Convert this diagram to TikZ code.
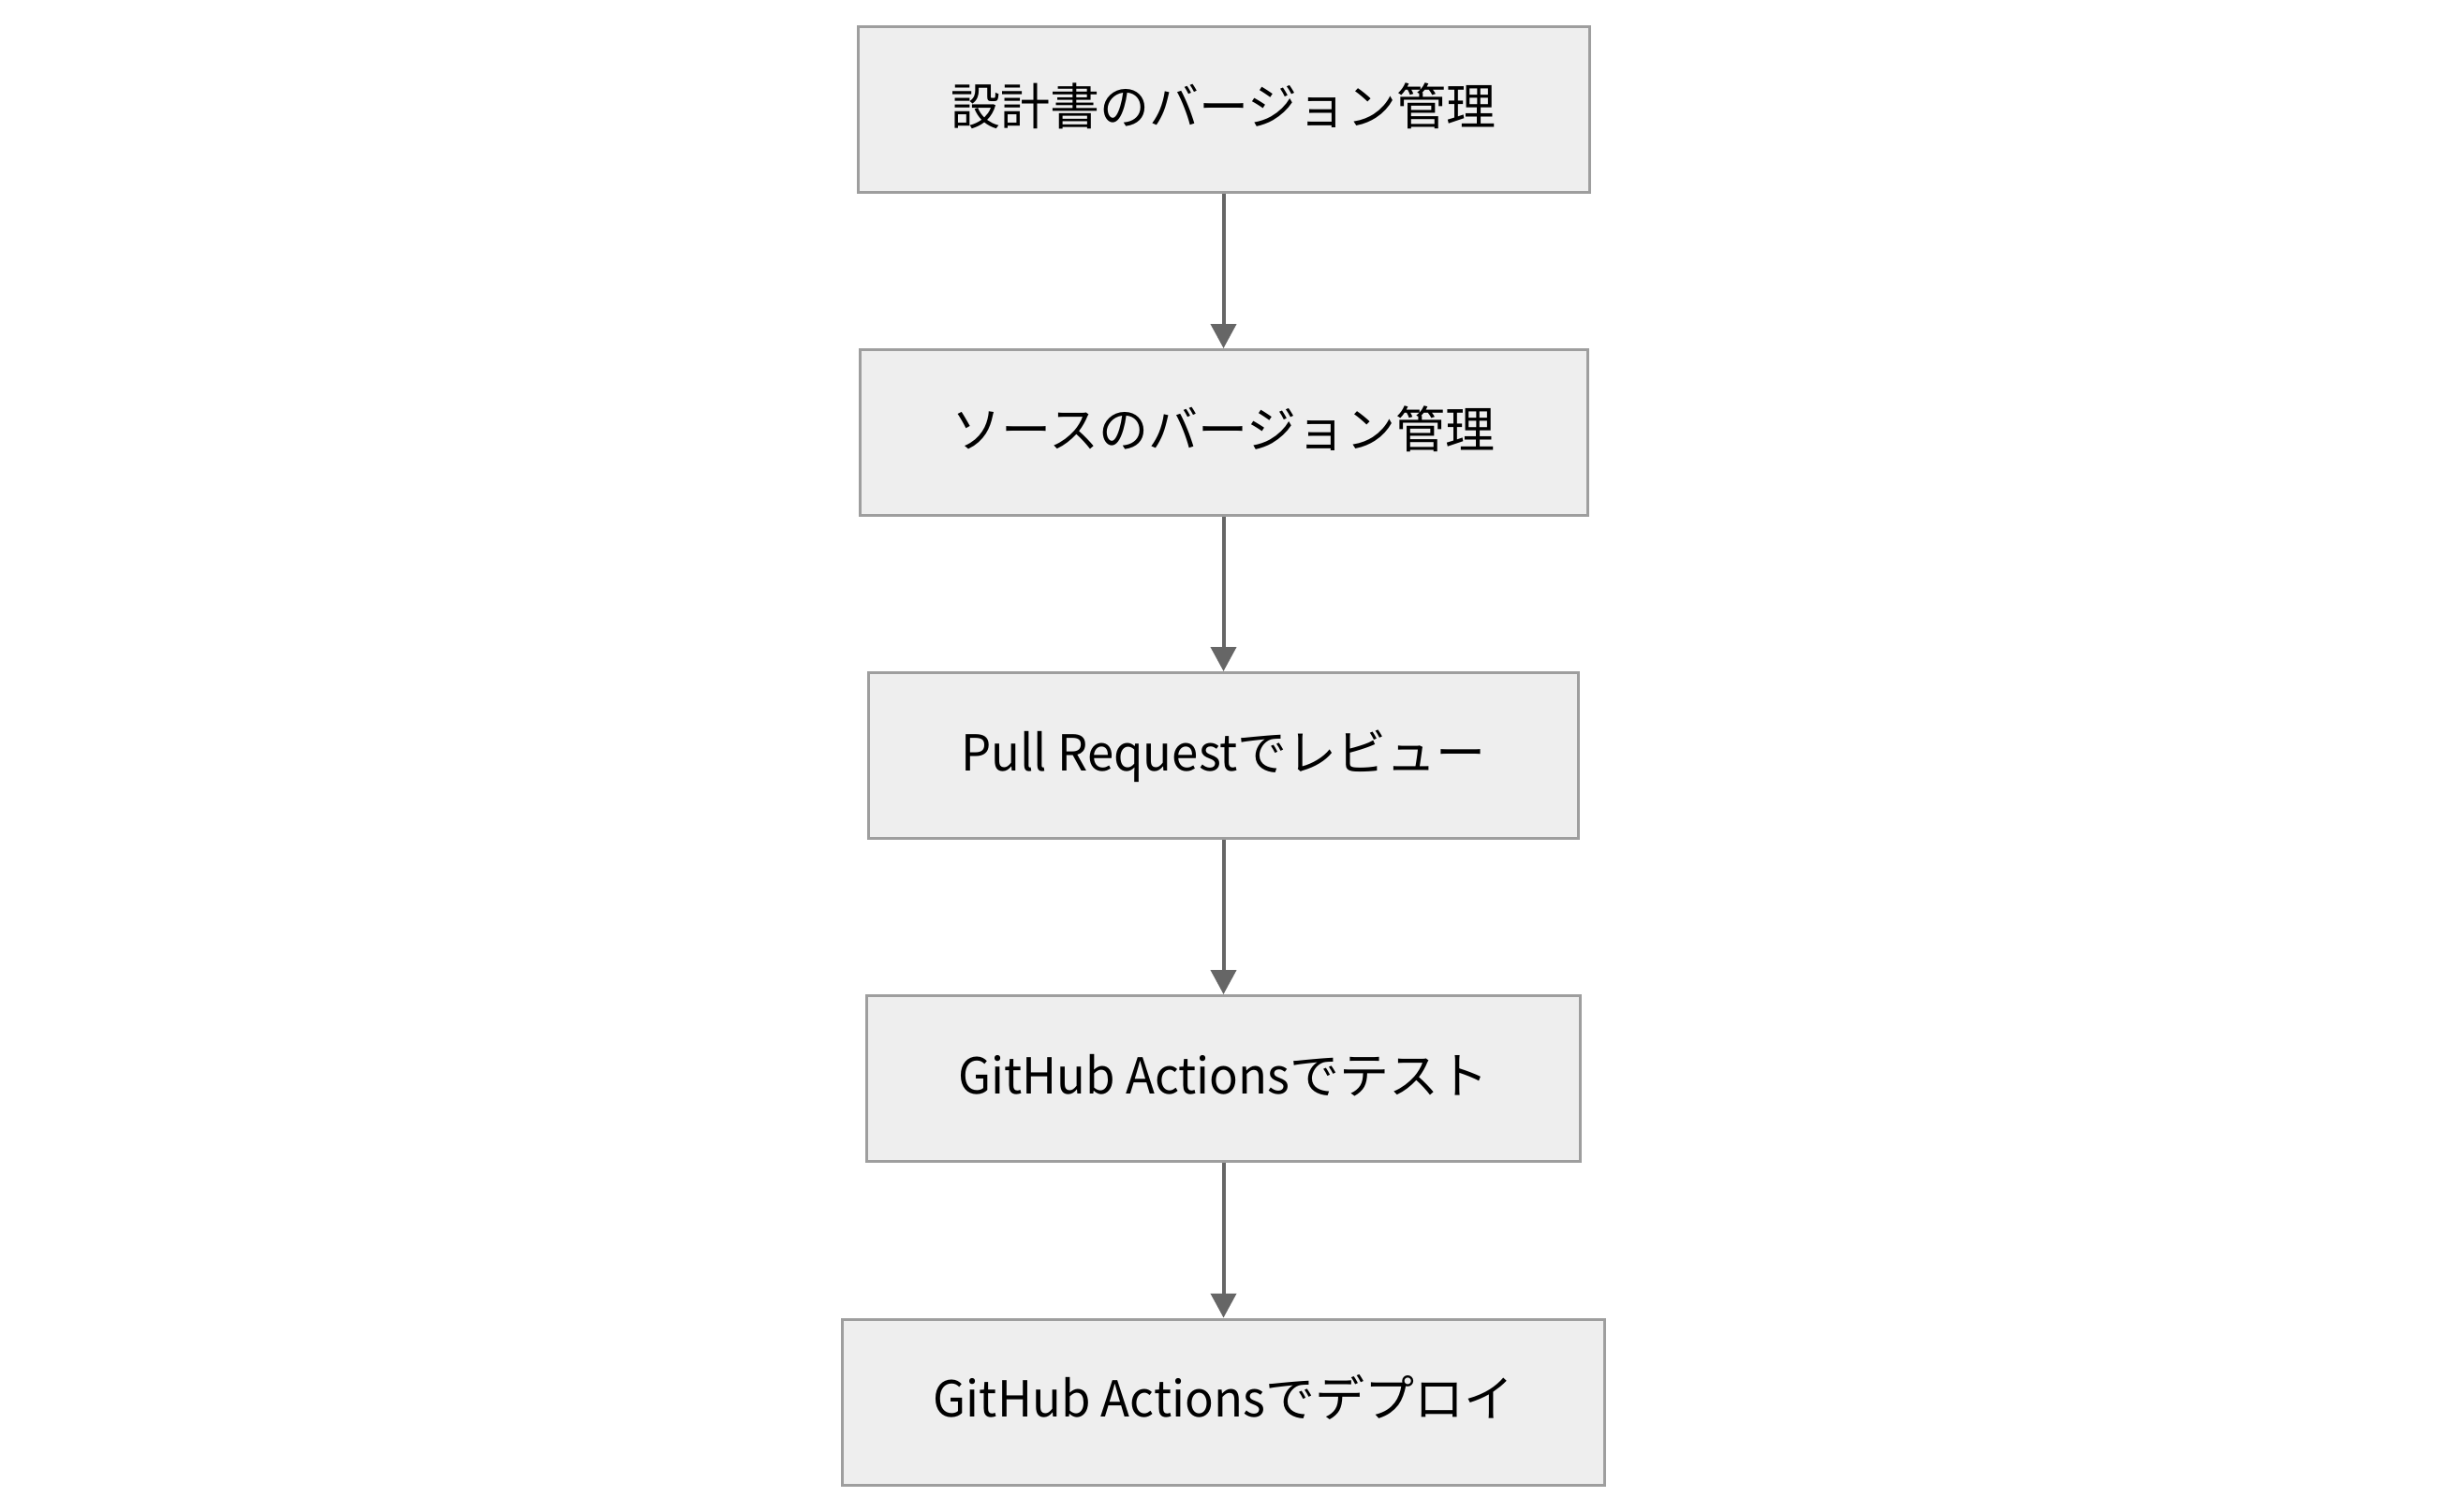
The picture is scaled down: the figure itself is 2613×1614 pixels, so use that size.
\documentclass[tikz,border=0pt]{standalone}
\usepackage{fontspec}
\setmainfont{Noto Sans CJK JP}
\newfontfamily\latnfont[FakeStretch=0.96]{Noto Sans CJK JP}
\usetikzlibrary{arrows.meta}
\definecolor{boxfill}{HTML}{EEEEEE}
\definecolor{boxline}{HTML}{9E9E9E}
\definecolor{edgeline}{HTML}{666666}
\newcommand{\boxtext}[1]{\raisebox{-4pt}{#1}}
\tikzset{
  flowbox/.style={draw=boxline, fill=boxfill, line width=1.5pt, inner sep=0pt,
    minimum height=88.5pt, font=\fontsize{26.5pt}{32pt}\selectfont,
    text height=0.9em, text depth=0.1em},
  flowedge/.style={draw=edgeline, line width=2pt,
    -{Triangle[width=13.5pt,length=13pt]}}
}
\begin{document}
\begin{tikzpicture}[x=0.5pt,y=-0.5pt]
\useasboundingbox (0,0) rectangle (2613,1614);
\node[flowbox, minimum width=390.5pt] (n1) at (1306.5,117) {\boxtext{設計書のバージョン管理}};
\node[flowbox, minimum width=388.5pt] (n2) at (1306.5,462) {\boxtext{ソースのバージョン管理}};
\node[flowbox, minimum width=379pt] (n3) at (1306.5,807) {\boxtext{{\latnfont Pull Request}でレビュー}};
\node[flowbox, minimum width=381pt] (n4) at (1306.5,1152) {\boxtext{{\latnfont GitHub Actions}でテスト}};
\node[flowbox, minimum width=407pt] (n5) at (1306.5,1497.5) {\boxtext{{\latnfont GitHub Actions}でデプロイ}};
\draw[flowedge] (n1) -- (n2);
\draw[flowedge] (n2) -- (n3);
\draw[flowedge] (n3) -- (n4);
\draw[flowedge] (n4) -- (n5);
\end{tikzpicture}
\end{document}
